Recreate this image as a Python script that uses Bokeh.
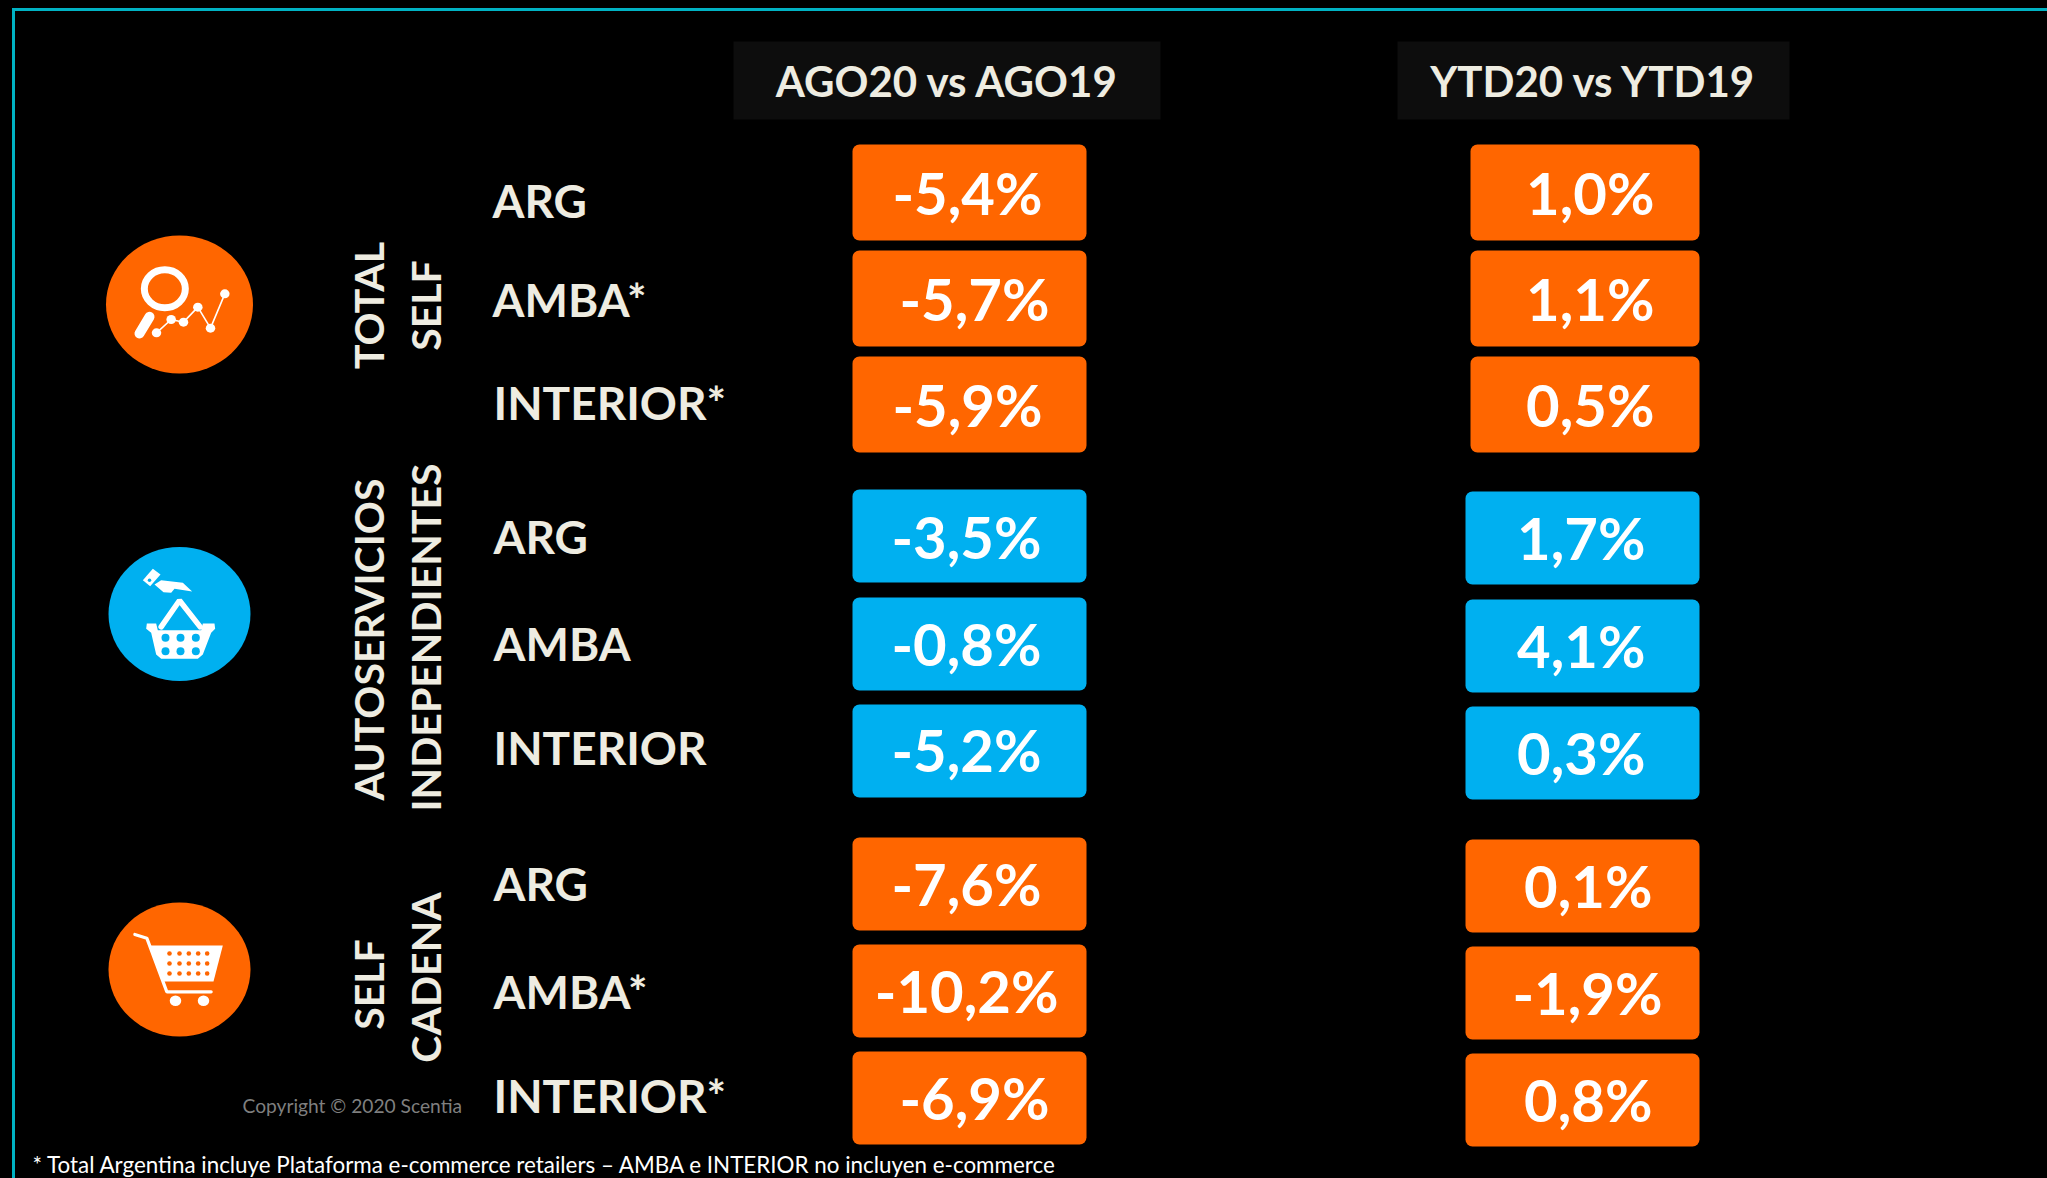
import math
from bokeh.core.properties import value
from bokeh.embed import file_html
from bokeh.models import ColumnDataSource, Range1d
from bokeh.plotting import figure
from bokeh.resources import INLINE

# ---------- data ----------
column_titles = ["AGO20 vs AGO19", "YTD20 vs YTD19"]
row_labels = ["ARG", "AMBA*", "INTERIOR*", "ARG", "AMBA", "INTERIOR", "ARG", "AMBA*", "INTERIOR*"]
ago_values = [-5.4, -5.7, -5.9, -3.5, -0.8, -5.2, -7.6, -10.2, -6.9]
ytd_values = [1.0, 1.1, 0.5, 1.7, 4.1, 0.3, 0.1, -1.9, 0.8]
group_titles = ["TOTAL", "SELF", "AUTOSERVICIOS", "INDEPENDIENTES", "SELF", "CADENA"]
copyright_text = "Copyright © 2020 Scentia"
footnote_text = "* Total Argentina  incluye Plataforma e-commerce retailers – AMBA e INTERIOR no incluyen e-commerce"

# ---------- layout (reference pixels) ----------
ORANGE, BLUE, CREAM, WHITE = "#FF6600", "#00B0F0", "#EEECE1", "#FFFFFF"
FONT = value("Lato")
K = 0.375  # distance between Bokeh's alphabetic anchor and the drawn baseline, per font px
row_colors = [ORANGE] * 3 + [BLUE] * 3 + [ORANGE] * 3
ago_left, ago_right = [853] * 9, [1087] * 9
ytd_left, ytd_right = [1471] * 3 + [1466] * 6, [1700] * 9
ago_top = [145, 251, 357, 490, 598, 705, 838, 945, 1052]
ago_bot = [241, 347, 453, 583, 691, 798, 931, 1038, 1145]
ytd_top = [145, 251, 357, 492, 600, 707, 840, 947, 1054]
ytd_bot = [241, 347, 453, 585, 693, 800, 933, 1040, 1147]
ago_text_x = [1043, 1050, 1043, 1042, 1042, 1042, 1042, 1059, 1050]
ytd_text_x = [1655, 1655, 1655, 1646, 1646, 1646, 1653, 1663, 1653]
ago_text_y = [215, 321, 427, 559, 666, 772, 906, 1013, 1120]
ytd_text_y = [215, 321, 427, 560, 668, 775, 908, 1015, 1122]
label_x = [493, 493, 494, 494, 494, 494, 494, 494, 494]
label_y = [218, 317, 420, 554, 661, 765, 901, 1009, 1113]
group_x = [384, 441, 384, 441, 384, 441]
group_y = [306, 306, 640, 638, 985, 978]

p = figure(width=2047, height=1178, output_backend="svg", toolbar_location=None,
           x_range=Range1d(1, 2048), y_range=Range1d(1179, 1),
           x_axis_location=None, y_axis_location=None, min_border=0,
           background_fill_color="#000000", border_fill_color="#000000", outline_line_color=None)
p.grid.visible = False


def fmt(v):
    return f"{v:.1f}%".replace(".", ",")


# frame
p.line([14, 14, 2048], [1179, 10, 10], line_color="#00B2C3", line_width=3, line_join="miter")

# column headers
p.quad(left=[734, 1398], right=[1161, 1790], top=[42, 42], bottom=[120, 120],
       fill_color="#0D0D0D", line_color=None)
p.text(x=[948, 1594], y=[97, 97], text=column_titles, text_color=CREAM, text_font=FONT,
       text_font_style="bold", text_font_size="42px", text_align="center", text_baseline="alphabetic",
       y_offset=-K * 42)

# value boxes and numbers
for vals, l, r, t, b, tx, ty in [
    (ago_values, ago_left, ago_right, ago_top, ago_bot, ago_text_x, ago_text_y),
    (ytd_values, ytd_left, ytd_right, ytd_top, ytd_bot, ytd_text_x, ytd_text_y),
]:
    src = ColumnDataSource(dict(l=l, r=r, t=t, b=b, c=row_colors, tx=tx, ty=ty, s=[fmt(v) for v in vals]))
    p.quad(left="l", right="r", top="t", bottom="b", fill_color="c", line_color=None,
           border_radius=7, source=src)
    p.text(x="tx", y="ty", text="s", source=src, text_color=WHITE, text_font=FONT, text_font_style="bold",
           text_font_size="58px", text_align="right", text_baseline="alphabetic", y_offset=-K * 58)

# row labels
p.text(x=label_x, y=label_y, text=row_labels, text_color=CREAM, text_font=FONT, text_font_style="bold",
       text_font_size="46px", text_align="left", text_baseline="alphabetic", y_offset=-K * 46)

# vertical group titles
p.text(x=group_x, y=group_y, text=group_titles, angle=math.pi / 2, text_color=CREAM, text_font=FONT,
       text_font_style="bold", text_font_size="41px", text_align="center", text_baseline="alphabetic",
       x_offset=-K * 41)

# copyright + footnote
p.text(x=[243], y=[1113], text=[copyright_text], text_color="#7F7F7F", text_font=FONT,
       text_font_size="19.2px", text_baseline="alphabetic", y_offset=-K * 19)
p.text(x=[33], y=[1173], text=[footnote_text], text_color=WHITE, text_font=FONT,
       text_font_size="22.4px", text_baseline="alphabetic", y_offset=-K * 22)


# ---------- icons (coordinates in zoom-crop pixels, scaled to the page) ----------
def zx(x0):
    return lambda vs: [x0 + v / 3 for v in vs]


def dots(xs, ys, w, h, color):
    p.ellipse(x=xs, y=ys, width=w, height=h, fill_color=color, line_color=None)


# magnifier icon
X, Y = zx(60), zx(200)
p.ellipse(x=[180], y=[305], width=147, height=138, fill_color=ORANGE, line_color=None)
p.ellipse(x=X([316]), y=Y([268]), width=41, height=38, fill_color=None, line_color=WHITE, line_width=7)
p.line(X([270, 240]), Y([352, 402]), line_color=WHITE, line_width=10, line_cap="round")
px, py = [291, 335, 372, 415, 453, 496], [400, 360, 368, 323, 386, 283]
p.line(X(px), Y(py), line_color=WHITE, line_width=1.6)
dots(X(px), Y(py), 9.5, 9, WHITE)

# basket icon
X, Y = zx(60), zx(520)
p.ellipse(x=[180], y=[614.5], width=142, height=134, fill_color=BLUE, line_color=None)
p.patch(X([250, 280, 303, 272]), Y([182, 148, 165, 200]), fill_color=WHITE, line_color=None)
dots(X([270]), Y([182]), 3.5, 3.5, BLUE)
p.patch(X([285, 305, 370, 398, 345, 335, 312]), Y([195, 182, 190, 216, 208, 220, 218]),
        fill_color=WHITE, line_color=None)
p.line(X([305, 360, 422]), Y([322, 243, 322]), line_color=WHITE, line_width=5.5, line_cap="round")
p.patch(X([262, 290, 295, 425, 430, 465, 467, 455, 430, 415, 305, 290, 275, 260]),
        Y([312, 312, 332, 332, 312, 312, 328, 340, 405, 418, 418, 405, 340, 328]),
        fill_color=WHITE, line_color=None)
dots(X([318, 363, 409, 318, 363, 409]), Y([355, 355, 355, 395, 395, 395]), 8, 8, BLUE)

# cart icon
X, Y = zx(60), zx(880)
p.ellipse(x=[180], y=[970], width=142, height=134, fill_color=ORANGE, line_color=None)
p.line(X([226, 262, 322, 455]), Y([165, 176, 337, 337]), line_color=WHITE, line_width=3.2, line_cap="round")
p.patch(X([272, 490, 462, 312]), Y([198, 198, 306, 306]), fill_color=WHITE, line_color=None)
gx = [330, 360, 388, 416, 443]
dots(X(gx * 3), Y([222] * 5 + [252] * 5 + [282] * 5), 4.6, 4.6, ORANGE)
dots(X([348, 432]), Y([364, 364]), 11.5, 10.5, WHITE)

html = file_html(p, INLINE)
html = html.replace("<head>", "<head><style>html,body{background:#000;margin:0;padding:0;overflow:hidden}</style>", 1)
open("out.html", "w").write(html)
